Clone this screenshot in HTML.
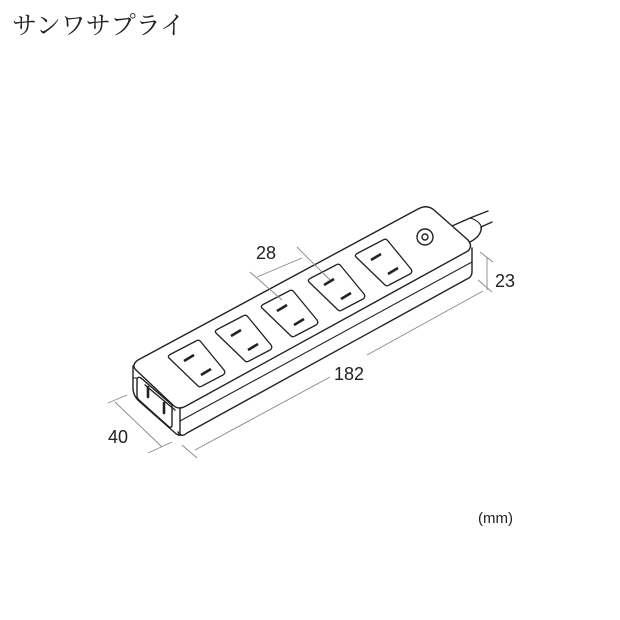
<!DOCTYPE html>
<html><head><meta charset="utf-8"><style>
html,body{margin:0;padding:0;background:#fff;}
svg{display:block;}
</style></head><body>
<svg width="620" height="620" viewBox="0 0 620 620" xmlns="http://www.w3.org/2000/svg">
<rect width="620" height="620" fill="#fff"/>
<text x="12" y="34" font-family="'Liberation Serif','Noto Serif CJK SC',serif" font-size="25" fill="#222">サンワサプライ</text>
<g fill="none" stroke="#222" stroke-width="1.4" stroke-linejoin="round" stroke-linecap="round">
<path d="M452,226 L470,218 L488,211"/>
<path d="M470,242 C478,238 482,232 481,227 L492,222"/>
<path d="M470,218 C478,220 483,226 481,230" stroke-width="1.1"/>
<path d="M138,360 L418,209 Q427,204 434,210 L468,240 Q473,246 468,251 L186,406 Q179,410 174,406 L136,370 Q131,365 138,360 Z" fill="#fff"/>
<path d="M472,248 L472,272 Q472,277 467,279 L187,433 Q181,438 178,432"/>
<path d="M180,408 L180,434"/>
<path d="M180,421 L472,262" stroke-width="1.1"/>
<path d="M133,366 L133,388 Q133,396 140,402 L174,432 Q178,436 181,435"/>
<path d="M133,378 L137,378" stroke-width="1"/>
<path d="M137,380 Q137,376 141,378 L172,405 L172,425 Q172,429 168,426 L139,400 Q137,398 137,395 Z"/>
<path d="M145,385 L175,410"/>
<path d="M148,387 L148,397" stroke-width="2.6"/>
<path d="M164,403 L164,413" stroke-width="2.6"/>
<circle cx="425" cy="237" r="8"/>
<circle cx="425" cy="237" r="3"/>
</g>
<g fill="none" stroke="#222" stroke-width="1.3" stroke-linejoin="round">
<g id="o">
<path d="M171,354 L196,341 Q199,339 201,342 L224,370 Q226,373 223,375 L202,386 Q199,388 197,385 L169,358 Q167,356 171,354 Z"/>
<path d="M184,361 L194,355" stroke-width="2.6"/>
<path d="M201,375 L211,369" stroke-width="2.6"/>
</g>
<use href="#o" transform="translate(47,-25)"/>
<use href="#o" transform="translate(93,-50)"/>
<use href="#o" transform="translate(140,-76)"/>
<use href="#o" transform="translate(187,-101)"/>
</g>
<g stroke="#888" stroke-width="0.9" fill="none">
<path d="M250,272 L282,300"/>
<path d="M297,247 L330,280"/>
<path d="M257,277 L302,258"/>
<path d="M480,252 L493,262"/>
<path d="M478,280 L492,292"/>
<path d="M487,257 L487,290"/>
<path d="M182,445 L197,458"/>
<path d="M195,450 L330,377"/>
<path d="M367,355 L483,291"/>
<path d="M108,403 L127,395"/>
<path d="M148,453 L172,442"/>
<path d="M115,402 L162,447"/>
</g>
<g font-family="'Liberation Sans',sans-serif" font-size="18" fill="#222">
<text x="256" y="259">28</text>
<text x="495" y="287">23</text>
<text x="334" y="380">182</text>
<text x="108" y="443">40</text>
<text x="478" y="523" font-size="15">(mm)</text>
</g>
</svg>
</body></html>
